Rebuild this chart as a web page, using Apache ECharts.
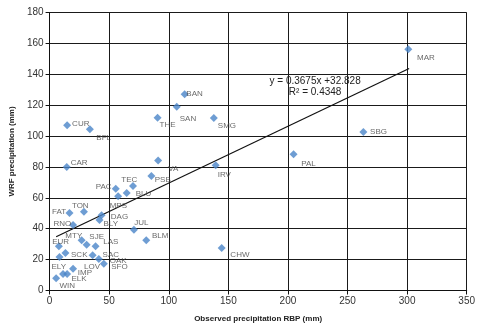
<!DOCTYPE html>
<html><head><meta charset="utf-8">
<script src="https://cdn.jsdelivr.net/npm/echarts@6/dist/echarts.min.js"></script>
<style>html,body{margin:0;padding:0;background:#fff}#c{width:482px;height:331px}</style>
</head><body><div id="c"></div>
<script>
// Station names, observed RBP precipitation (x), WRF precipitation (y)
var stations = ['CUR','BFL','CAR','PAC','MPS','BLU','TEC','PSB','VA','THE','SAN','BAN','SMG','IRV','PAL','SBG','MAR','CHW','JUL','BLM','DAG','BLY','FAT','TON','RNO','MTY','SJE','LAS','EUR','SCK','ELY','SAC','OAK','SFO','LOV','IMP','ELK','WIN'];
var observed = [14.7,33.8,14.4,55.5,57.5,64.7,70.0,85.4,91.1,90.6,106.7,113.3,137.8,139.4,204.7,263.3,301.0,144.4,70.8,81.1,43.6,41.9,16.7,28.8,19.7,26.9,31.1,38.6,7.8,13.3,8.3,36.1,41.3,45.5,19.7,14.7,11.3,5.5];
var wrf      = [107.0,104.4,79.9,65.9,61.0,63.1,67.7,74.1,84.2,111.8,119.0,127.1,111.7,81.1,88.2,102.7,156.2,27.5,39.4,32.5,48.7,45.7,50.2,51.0,42.4,32.5,29.7,28.6,28.6,24.3,21.7,22.8,20.4,17.4,14.1,10.7,10.7,7.9];
// Trend line as printed on the chart
var slope = 0.3675, intercept = 32.828, r2 = '0.4348';
var trendRange = [5.5, 301.7];
var xTicks = {min:0, max:350, interval:50};
var yTicks = {min:0, max:180, interval:20};

// label placement (pixel offsets from marker centre to label's left/middle)
var labelOffsets = {
  CUR:[5,-1], BFL:[6.5,8.5], CAR:[4,-4], PAC:[-20,-1.5], MPS:[-8.4,9.4], BLU:[9,1], TEC:[-11.7,-5.7],
  PSB:[3.4,4], VA:[10,8], THE:[2,7], SAN:[3,12.3], BAN:[1.7,0], SMG:[4,8], IRV:[2,9.7], PAL:[7.7,9.4],
  SBG:[6.7,0], MAR:[8.7,8.4], CHW:[8.7,6.7], JUL:[0.3,-7], BLM:[5.7,-4.3], DAG:[9.3,1.7], BLY:[4,4],
  FAT:[-17.4,-0.7], TON:[-12,-6.4], RNO:[-19.6,-1], MTY:[-16.3,-4.6], SJE:[2.7,-7.7], LAS:[7.7,-4.3],
  EUR:[-6.7,-5], SCK:[5.6,1.7], ELY:[-8,10.3], SAC:[10,0], OAK:[11,2], SFO:[7.4,3.3], LOV:[11,-2.4],
  IMP:[10.7,-1], ELK:[8.4,4.7], WIN:[3.4,7.4]
};

var pts = stations.map(function(n,i){
  var off = labelOffsets[n] || [5,0];
  return {name:n, value:[observed[i], wrf[i]], label:{offset:off}};
});
var trend = trendRange.map(function(x){ return [x, slope*x + intercept]; });

var chart = echarts.init(document.getElementById('c'), null, {renderer:'canvas'});
var axisCommon = {
  axisLine:{show:true, onZero:false, lineStyle:{color:'#111', width:1}},
  axisTick:{show:true, inside:false, length:4, lineStyle:{color:'#111'}},
  splitLine:{show:true, lineStyle:{color:'#1a1a1a', width:1}},
  axisLabel:{color:'#333', fontSize:10, fontFamily:'Liberation Sans, Arial, sans-serif'},
  nameTextStyle:{color:'#222', fontSize:8, fontWeight:'bold', fontFamily:'Liberation Sans, Arial, sans-serif'}
};
chart.setOption({
  animation:false,
  grid:{left:46.7, right:15.3, top:12.5, bottom:40.5, show:false},
  xAxis:Object.assign({type:'value', min:xTicks.min, max:xTicks.max, interval:xTicks.interval,
    name:'Observed precipitation RBP (mm)', nameLocation:'middle', nameGap:24}, axisCommon,
    {axisLabel:Object.assign({}, axisCommon.axisLabel, {margin:6})}),
  yAxis:Object.assign({type:'value', min:yTicks.min, max:yTicks.max, interval:yTicks.interval,
    name:'WRF precipitation (mm)', nameLocation:'middle', nameGap:33}, axisCommon,
    {axisLabel:Object.assign({}, axisCommon.axisLabel, {margin:6})}),
  series:[
    {type:'line', data:trend, symbol:'none', lineStyle:{color:'#111', width:1.2}, z:3, silent:true},
    {type:'scatter', data:pts, symbol:'diamond', symbolSize:8,
      itemStyle:{color:'#4a85c8'}, z:4,
      label:{show:true, position:'inside', align:'left', verticalAlign:'middle',
        formatter:'{b}', color:'#444', fontSize:8, fontFamily:'Liberation Sans, Arial, sans-serif'}}
  ]
});
var c = chart.convertToPixel({gridIndex:0}, [222.8, 131.7]);
chart.setOption({graphic:[
  {type:'text', x:c[0], y:c[1]-5.5, z:10, style:{text:'y = ' + slope + 'x +' + intercept, fill:'#222', font:'10px Liberation Sans, Arial, sans-serif', textAlign:'center', textVerticalAlign:'middle'}},
  {type:'text', x:c[0], y:c[1]+5.5, z:10, style:{text:'R\u00b2 = ' + r2, fill:'#222', font:'10px Liberation Sans, Arial, sans-serif', textAlign:'center', textVerticalAlign:'middle'}}
]});
</script></body></html>
